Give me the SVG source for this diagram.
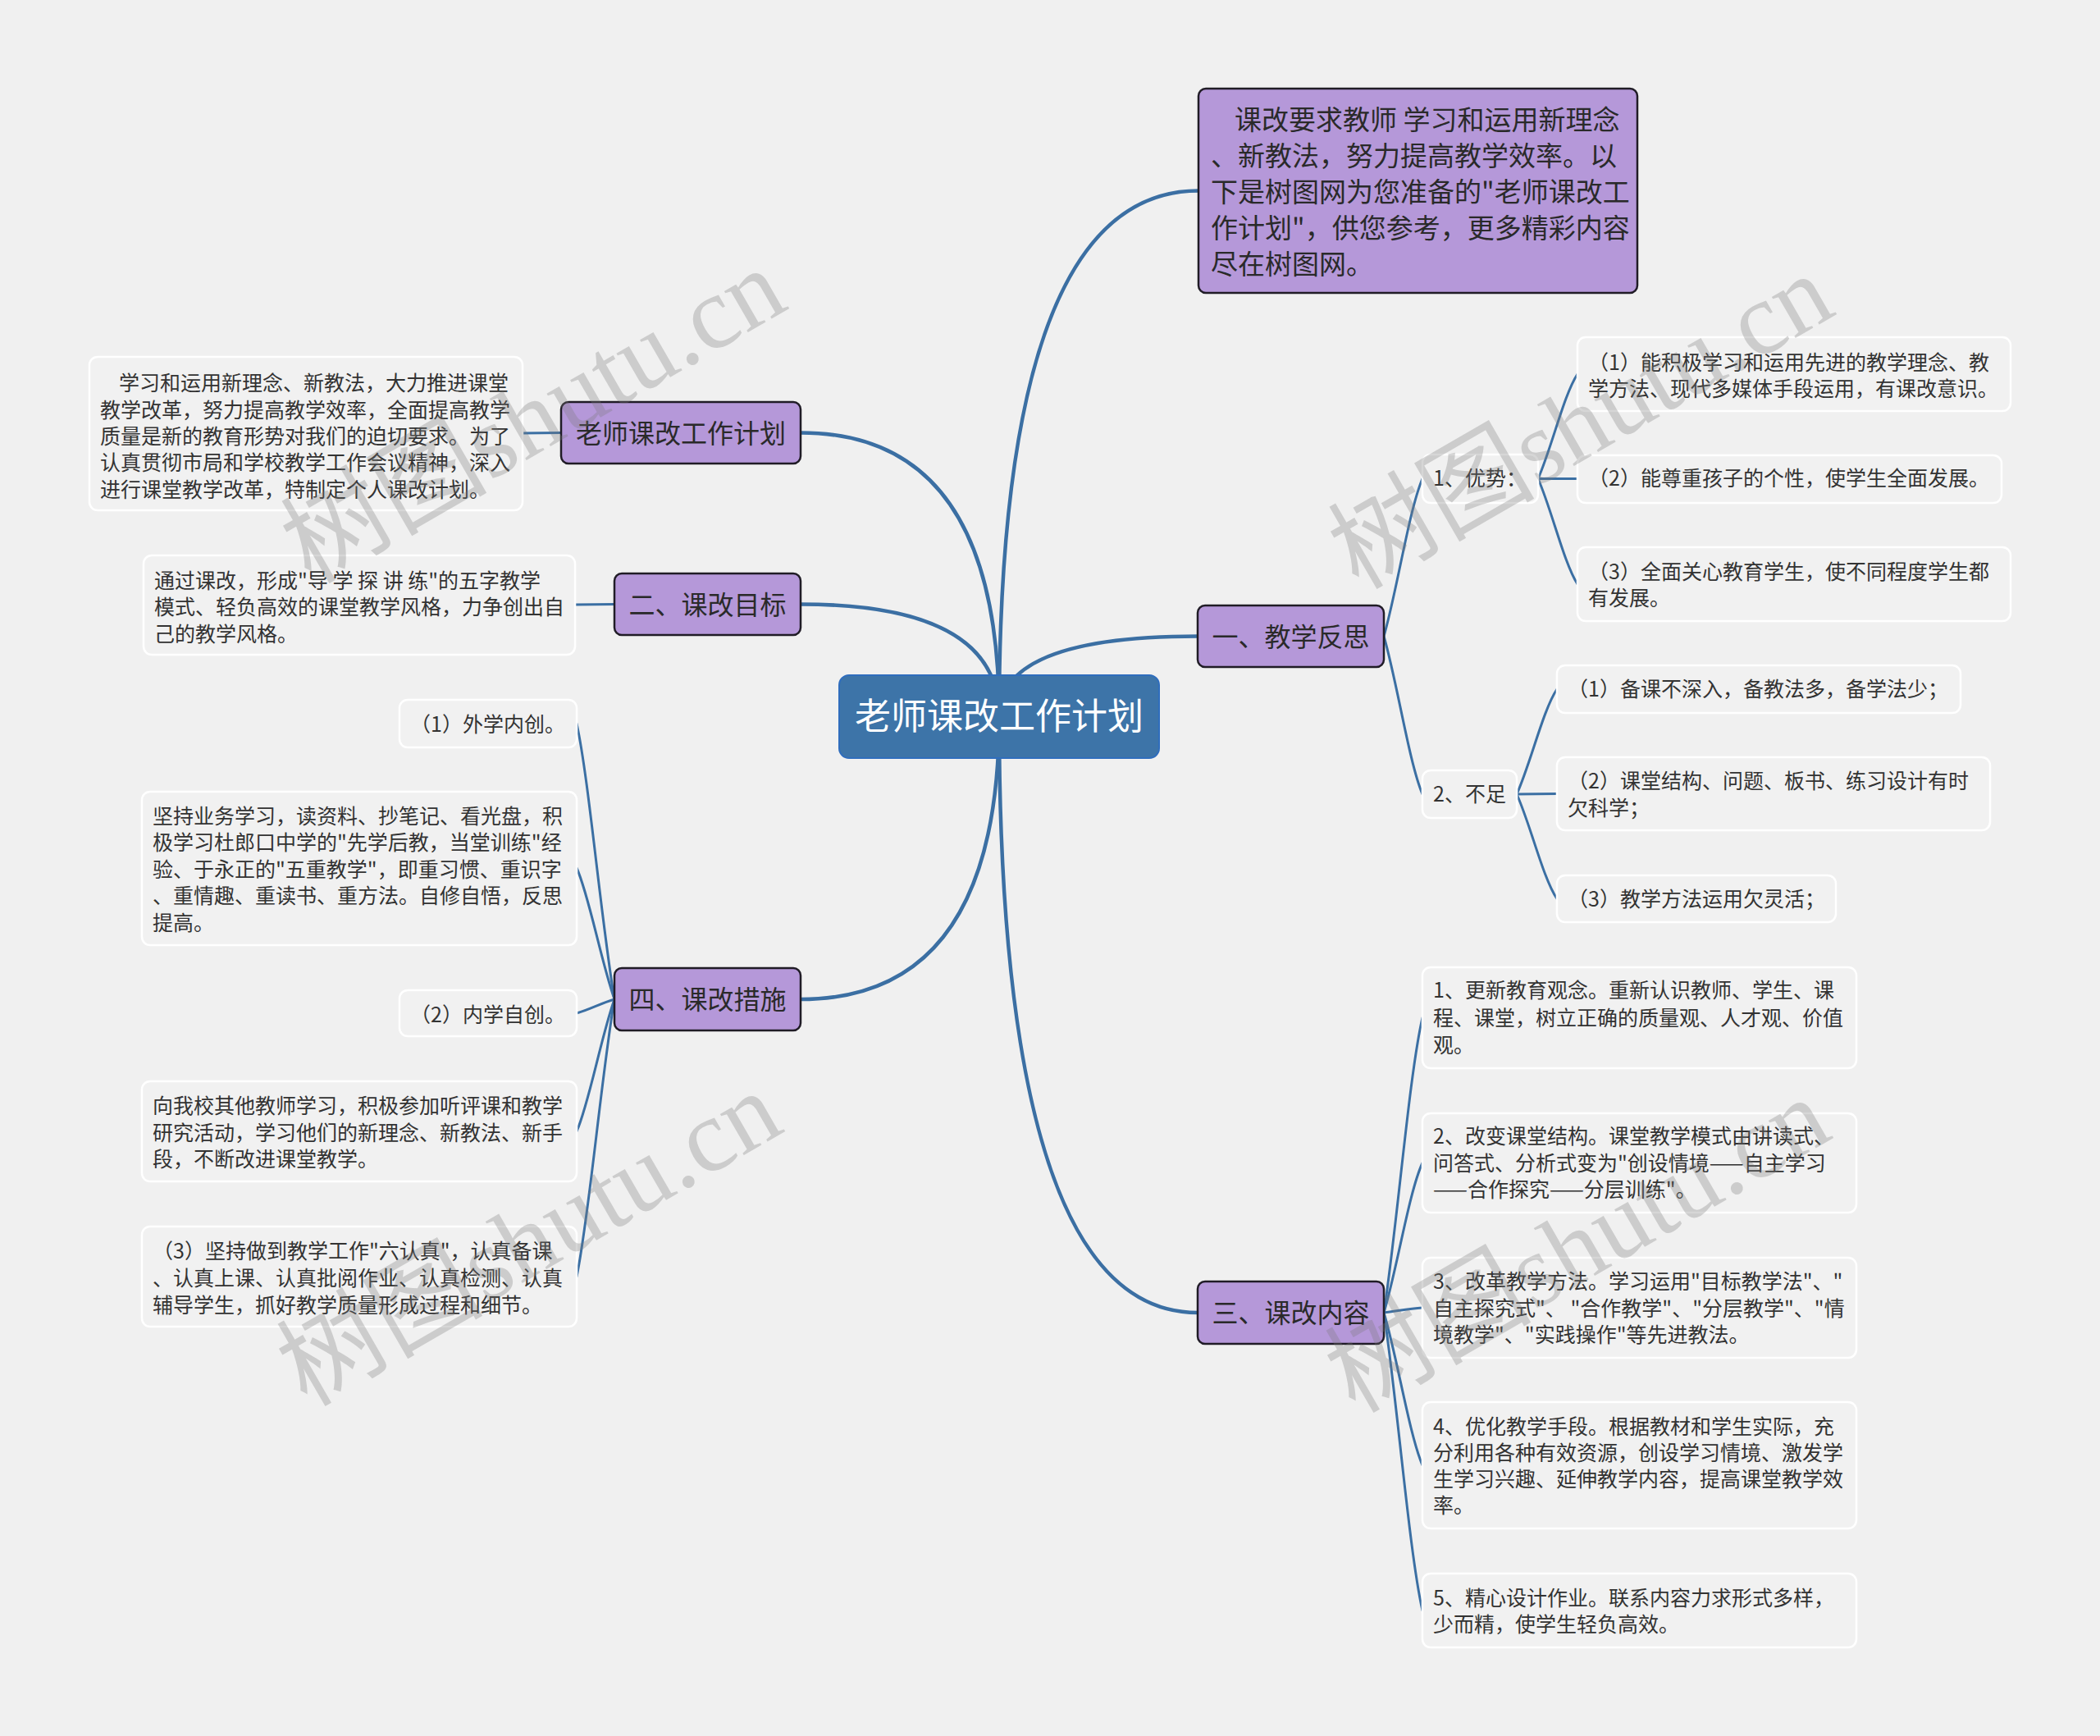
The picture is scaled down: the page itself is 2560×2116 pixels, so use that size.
<svg xmlns="http://www.w3.org/2000/svg" width="2560" height="2116" viewBox="0 0 2560 2116">
<style>
.bg{fill:#f0f0f0}
.leaf rect{fill:#f1f1f1;stroke:#ffffff;stroke-width:2.5}
.t{font-family:"Noto Sans CJK SC","Noto Sans CJK JP",sans-serif;font-size:25px;fill:#333333}
.l1 rect{fill:#b598d9;stroke:#201c26;stroke-width:2.5}
.l1 text{font-family:"Noto Sans CJK SC","Noto Sans CJK JP",sans-serif;font-size:32px;fill:#2a2a2a;text-anchor:middle}
.top text{font-size:33px}
.root rect{fill:#3d74a8;stroke:#2f6dbd;stroke-width:2}
.root text{font-family:"Noto Sans CJK SC","Noto Sans CJK JP",sans-serif;font-size:44px;fill:#ffffff;text-anchor:middle}
.main path{fill:none;stroke:#3b6fa3;stroke-width:4.5;stroke-linecap:round}
.sub path{fill:none;stroke:#3b6fa3;stroke-width:3;stroke-linecap:round}
.wm{font-family:"Liberation Serif","Noto Sans CJK SC",serif;font-size:126px;fill:#7a7a7a;opacity:0.3;text-anchor:middle;dominant-baseline:central}
</style>
<rect class="bg" x="0" y="0" width="2560" height="2116"/>

<g id="connectors">
<g class="main">
<path d="M1218,873 Q1218,232.5 1461,232.5"/>
<path d="M1218,873 Q1218,775.5 1460,775.5"/>
<path d="M1218,873 Q1218,1600 1460,1600"/>
<path d="M1218,873 Q1218,527.5 976,527.5"/>
<path d="M1218,873 Q1218,736.5 976,736.5"/>
<path d="M1218,873 Q1218,1218 976,1218"/>
</g>
<g class="sub">
<!-- 一 -> 优势 / 不足 -->
<path d="M1687,775.5 C1703.5,717.9 1717.6,621.9 1734,583.5"/>
<path d="M1687,775.5 C1703.5,832.9 1717.6,928.9 1734,968"/>
<!-- 优势 -> children -->
<path d="M1875,583.5 C1891.8,545.3 1906.2,481.5 1923,456"/>
<path d="M1875,583.5 L1923,583.5"/>
<path d="M1875,583.5 C1891.8,621.9 1906.2,685.5 1923,712"/>
<!-- 不足 -> children -->
<path d="M1849,968 C1866.2,929.6 1880.9,865.6 1898,840"/>
<path d="M1849,968 L1898,967.5"/>
<path d="M1849,968 C1866.2,1006.4 1880.9,1070.4 1898,1095.5"/>
<!-- 三 -> items -->
<path d="M1687,1600 C1703.5,1491.8 1717.6,1311.6 1734,1240.5"/>
<path d="M1687,1600 C1703.5,1545 1717.6,1453 1734,1417.5"/>
<path d="M1687,1600 C1703.5,1598 1717.6,1595 1734,1594"/>
<path d="M1687,1600 C1703.5,1655 1717.6,1747 1734,1786"/>
<path d="M1687,1600 C1703.5,1709 1717.6,1890 1734,1963"/>
<!-- left -->
<path d="M684,527.5 L637,528"/>
<path d="M749,736.5 L701,737"/>
<path d="M749,1218 C732.2,1117.2 717.8,949 703,882"/>
<path d="M749,1218 C732.2,1170 717.8,1090 703,1058"/>
<path d="M749,1218 C732.2,1223 717.8,1231 703,1235"/>
<path d="M749,1218 C732.2,1266 717.8,1346 703,1379"/>
<path d="M749,1218 C732.2,1319 717.8,1486 703,1556"/>
</g>
</g>

<g id="root" class="root">
<rect x="1023" y="823" width="390" height="101" rx="12"/>
<text x="1218" y="889">老师课改工作计划</text>
</g>

<g id="n-intro" class="l1 top">
<rect x="1461" y="108" width="535" height="249" rx="9"/>
<text class="t" style="text-anchor:start;font-size:33px;fill:#2a2a2a">
<tspan x="1505" y="157.5">课改要求教师 学习和运用新理念</tspan>
<tspan x="1476" y="201.5">、新教法，努力提高教学效率。以</tspan>
<tspan x="1476" y="245.5">下是树图网为您准备的"老师课改工</tspan>
<tspan x="1476" y="289.5">作计划"，供您参考，更多精彩内容</tspan>
<tspan x="1476" y="333.5">尽在树图网。</tspan>
</text>
</g>

<g id="n-1" class="l1">
<rect x="1460" y="738" width="227" height="75" rx="9"/>
<text x="1573.5" y="787.5">一、教学反思</text>
</g>
<g id="n-3" class="l1">
<rect x="1460" y="1562" width="227" height="76" rx="9"/>
<text x="1573.5" y="1612">三、课改内容</text>
</g>
<g id="n-plan" class="l1">
<rect x="684" y="490" width="292" height="75" rx="9"/>
<text x="830" y="539.5">老师课改工作计划</text>
</g>
<g id="n-2" class="l1">
<rect x="749" y="699" width="227" height="75" rx="9"/>
<text x="862.5" y="748.5">二、课改目标</text>
</g>
<g id="n-4" class="l1">
<rect x="749" y="1180" width="227" height="76" rx="9"/>
<text x="862.5" y="1230">四、课改措施</text>
</g>

<g id="n-1-1" class="leaf">
<rect x="1734" y="554" width="141" height="59" rx="10"/>
<text class="t" x="1747" y="592">1、优势：</text>
</g>
<g id="n-1-2" class="leaf">
<rect x="1734" y="939" width="115" height="58" rx="10"/>
<text class="t" x="1747" y="977">2、不足</text>
</g>
<g id="n-1-1-1" class="leaf">
<rect x="1923" y="411" width="528" height="90" rx="10"/>
<text class="t"><tspan x="1936" y="451">（1）能积极学习和运用先进的教学理念、教</tspan><tspan x="1936" y="483">学方法、现代多媒体手段运用，有课改意识。</tspan></text>
</g>
<g id="n-1-1-2" class="leaf">
<rect x="1923" y="555" width="517" height="58" rx="10"/>
<text class="t" x="1936" y="592">（2）能尊重孩子的个性，使学生全面发展。</text>
</g>
<g id="n-1-1-3" class="leaf">
<rect x="1923" y="667" width="528" height="90" rx="10"/>
<text class="t"><tspan x="1936" y="706">（3）全面关心教育学生，使不同程度学生都</tspan><tspan x="1936" y="738">有发展。</tspan></text>
</g>
<g id="n-1-2-1" class="leaf">
<rect x="1898" y="811" width="492" height="58" rx="10"/>
<text class="t" x="1911" y="849">（1）备课不深入，备教法多，备学法少；</text>
</g>
<g id="n-1-2-2" class="leaf">
<rect x="1898" y="923" width="528" height="89" rx="10"/>
<text class="t"><tspan x="1911" y="961">（2）课堂结构、问题、板书、练习设计有时</tspan><tspan x="1911" y="994">欠科学；</tspan></text>
</g>
<g id="n-1-2-3" class="leaf">
<rect x="1898" y="1067" width="340" height="57" rx="10"/>
<text class="t" x="1911" y="1105">（3）教学方法运用欠灵活；</text>
</g>

<g id="n-3-1" class="leaf">
<rect x="1734" y="1179" width="529" height="123" rx="10"/>
<text class="t"><tspan x="1747" y="1216">1、更新教育观念。重新认识教师、学生、课</tspan><tspan x="1747" y="1250">程、课堂，树立正确的质量观、人才观、价值</tspan><tspan x="1747" y="1283">观。</tspan></text>
</g>
<g id="n-3-2" class="leaf">
<rect x="1734" y="1357" width="529" height="121" rx="10"/>
<text class="t"><tspan x="1747" y="1394">2、改变课堂结构。课堂教学模式由讲读式、</tspan><tspan x="1747" y="1427">问答式、分析式变为"创设情境——自主学习</tspan><tspan x="1747" y="1459">——合作探究——分层训练"。</tspan></text>
</g>
<g id="n-3-3" class="leaf">
<rect x="1734" y="1533" width="529" height="122" rx="10"/>
<text class="t"><tspan x="1747" y="1571">3、改革教学方法。学习运用"目标教学法"、"</tspan><tspan x="1747" y="1604">自主探究式"、 "合作教学"、"分层教学"、"情</tspan><tspan x="1747" y="1636">境教学"、"实践操作"等先进教法。</tspan></text>
</g>
<g id="n-3-4" class="leaf">
<rect x="1734" y="1709" width="529" height="154" rx="10"/>
<text class="t"><tspan x="1747" y="1748">4、优化教学手段。根据教材和学生实际，充</tspan><tspan x="1747" y="1780">分利用各种有效资源，创设学习情境、激发学</tspan><tspan x="1747" y="1812">生学习兴趣、延伸教学内容，提高课堂教学效</tspan><tspan x="1747" y="1844">率。</tspan></text>
</g>
<g id="n-3-5" class="leaf">
<rect x="1734" y="1918" width="529" height="90" rx="10"/>
<text class="t"><tspan x="1747" y="1957">5、精心设计作业。联系内容力求形式多样，</tspan><tspan x="1747" y="1989">少而精，使学生轻负高效。</tspan></text>
</g>

<g id="n-plan-1" class="leaf">
<rect x="109" y="435" width="528" height="187" rx="10"/>
<text class="t"><tspan x="145" y="476">学习和运用新理念、新教法，大力推进课堂</tspan><tspan x="122" y="509">教学改革，努力提高教学效率，全面提高教学</tspan><tspan x="122" y="541">质量是新的教育形势对我们的迫切要求。为了</tspan><tspan x="122" y="573">认真贯彻市局和学校教学工作会议精神，深入</tspan><tspan x="122" y="606">进行课堂教学改革，特制定个人课改计划。</tspan></text>
</g>
<g id="n-2-1" class="leaf">
<rect x="175" y="677" width="526" height="121" rx="10"/>
<text class="t"><tspan x="188" y="717">通过课改，形成"导 学 探 讲 练"的五字教学</tspan><tspan x="188" y="749">模式、轻负高效的课堂教学风格，力争创出自</tspan><tspan x="188" y="782">己的教学风格。</tspan></text>
</g>
<g id="n-4-1" class="leaf">
<rect x="487" y="853" width="216" height="58" rx="10"/>
<text class="t" x="500" y="892">（1）外学内创。</text>
</g>
<g id="n-4-2" class="leaf">
<rect x="173" y="965" width="530" height="187" rx="10"/>
<text class="t"><tspan x="186" y="1004">坚持业务学习，读资料、抄笔记、看光盘，积</tspan><tspan x="186" y="1036">极学习杜郎口中学的"先学后教，当堂训练"经</tspan><tspan x="186" y="1069">验、于永正的"五重教学"，即重习惯、重识字</tspan><tspan x="186" y="1101">、重情趣、重读书、重方法。自修自悟，反思</tspan><tspan x="186" y="1134">提高。</tspan></text>
</g>
<g id="n-4-3" class="leaf">
<rect x="487" y="1207" width="216" height="56" rx="10"/>
<text class="t" x="500" y="1246">（2）内学自创。</text>
</g>
<g id="n-4-4" class="leaf">
<rect x="173" y="1318" width="530" height="122" rx="10"/>
<text class="t"><tspan x="186" y="1357">向我校其他教师学习，积极参加听评课和教学</tspan><tspan x="186" y="1390">研究活动，学习他们的新理念、新教法、新手</tspan><tspan x="186" y="1422">段，不断改进课堂教学。</tspan></text>
</g>
<g id="n-4-5" class="leaf">
<rect x="173" y="1495" width="530" height="122" rx="10"/>
<text class="t"><tspan x="186" y="1534">（3）坚持做到教学工作"六认真"，认真备课</tspan><tspan x="186" y="1567">、认真上课、认真批阅作业、认真检测、认真</tspan><tspan x="186" y="1600">辅导学生，抓好教学质量形成过程和细节。</tspan></text>
</g>

<g id="watermarks">
<text class="wm" transform="translate(650,507) rotate(-30)">树图shutu.cn</text>
<text class="wm" transform="translate(1927,514) rotate(-30)">树图shutu.cn</text>
<text class="wm" transform="translate(645,1510) rotate(-30)">树图shutu.cn</text>
<text class="wm" transform="translate(1923,1518) rotate(-30)">树图shutu.cn</text>
</g>
</svg>
